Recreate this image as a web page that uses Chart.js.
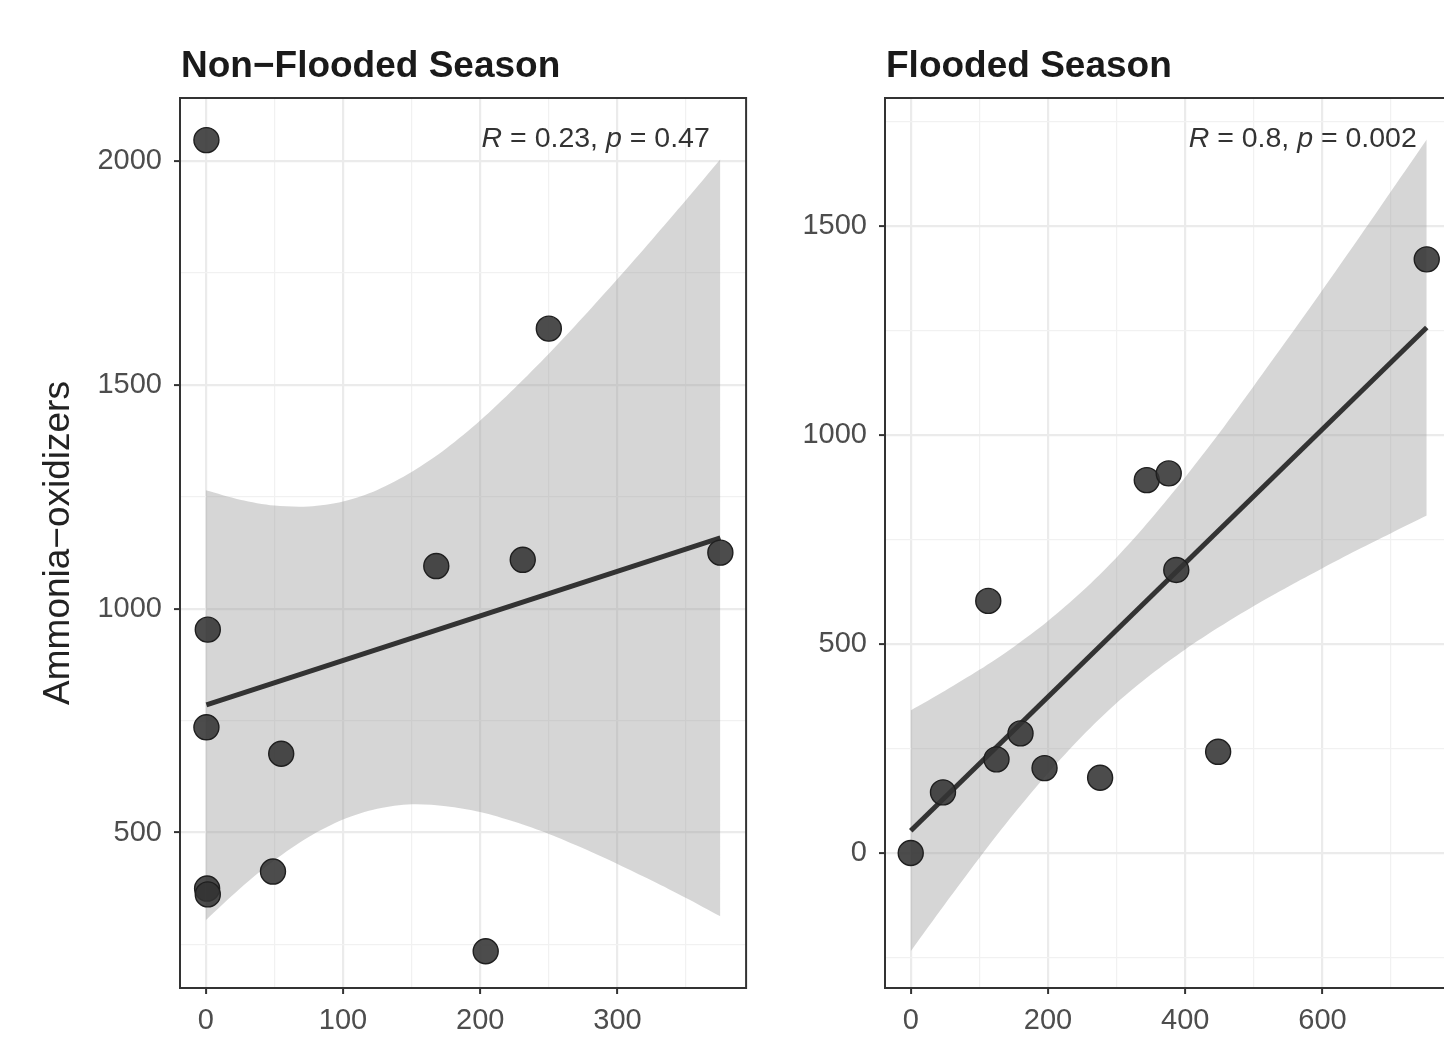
<!DOCTYPE html>
<html>
<head>
<meta charset="utf-8">
<script src="https://cdn.jsdelivr.net/npm/chart.js@4"></script>
<style>
  html, body { margin: 0; padding: 0; background: #fff; overflow: hidden; }
  #wrap { position: relative; width: 1444px; height: 1045px; overflow: hidden; }
  #leftBox { position: absolute; left: 0; top: 0; width: 760px; height: 1045px; }
  #rightBox { position: absolute; left: 760px; top: 0; width: 705px; height: 1045px; }
</style>
</head>
<body>
<div id="wrap">
  <div id="leftBox"><canvas id="nonFlooded" width="760" height="1045"></canvas></div>
  <div id="rightBox"><canvas id="flooded" width="705" height="1045"></canvas></div>
</div>
<script>
// values

// Non-Flooded season
const nfX = [0.5, 250, 168, 231, 375, 1.5, 0.5, 55, 49, 1, 1.5, 204];
const nfY = [2046, 1625, 1095, 1109, 1125, 953, 735, 676, 413, 375, 362, 235];
const nfFitX = [0.5, 375];
const nfFitY = [785, 1158];
const nfBandX = [0, 25, 50, 75, 100, 125, 150, 175, 200, 225, 250, 275, 300, 325, 350, 375];
const nfBandHi = [1264, 1243, 1230, 1228, 1239, 1265, 1305, 1357, 1420, 1492, 1569, 1651, 1736, 1823, 1912, 2003];
const nfBandLo = [304, 375, 438, 490, 529, 553, 563, 559, 546, 524, 497, 465, 430, 393, 354, 313];
const nfXTicks = [0, 50, 100, 150, 200, 250, 300, 350];
const nfYTicks = [250, 500, 750, 1000, 1250, 1500, 1750, 2000];

// Flooded season
const fX = [0, 47, 113, 125, 160, 195, 276, 344, 376, 387, 448, 752];
const fY = [0, 145, 603, 224, 286, 203, 180, 892, 908, 677, 242, 1420];
const fFitX = [0, 752];
const fFitY = [53, 1257];
const fBandX = [0, 50, 100, 150, 200, 250, 300, 350, 400, 450, 500, 550, 600, 650, 700, 752];
const fBandHi = [341, 388, 438, 493, 555, 626, 707, 799, 899, 1005, 1117, 1231, 1347, 1464, 1583, 1707];
const fBandLo = [-235, -122, -12, 93, 191, 280, 359, 427, 487, 541, 591, 637, 681, 724, 765, 807];
const fXTicks = [0, 100, 200, 300, 400, 500, 600, 700];
const fYTicks = [-250, 0, 250, 500, 750, 1000, 1250, 1500, 1750];

const FONT = "'Liberation Sans', Arial, Helvetica, sans-serif";

const toXY = (xs, ys) => xs.map((x, i) => ({ x: x, y: ys[i] }));

// frame, panel title and correlation label
const panelDecor = {
  id: 'panelDecor',
  afterDraw(chart, args, opts) {
    const ctx = chart.ctx;
    const a = chart.chartArea;
    ctx.save();
    ctx.strokeStyle = '#333333';
    ctx.lineWidth = 2;
    ctx.strokeRect(a.left, a.top, a.right - a.left, a.bottom - a.top);

    ctx.fillStyle = '#1a1a1a';
    ctx.font = 'bold 37px ' + FONT;
    ctx.textBaseline = 'alphabetic';
    ctx.textAlign = 'left';
    ctx.fillText(opts.title, a.left + 1, 77);

    // R = .., p = ..
    let x = chart.scales.x.getPixelForValue(opts.labelX);
    const y = 147;
    ctx.fillStyle = '#333333';
    opts.label.forEach(part => {
      ctx.font = (part.it ? 'italic ' : '') + '28.5px ' + FONT;
      ctx.fillText(part.t, x, y);
      x += ctx.measureText(part.t).width;
    });
    ctx.restore();
  }
};

function makePanel(id, cfg) {
  const majorX = v => Math.abs(v % cfg.xMajor) < 1e-9;
  const majorY = v => Math.abs(v % cfg.yMajor) < 1e-9;
  const gridOpts = isMajor => ({
    color: c => (c.tick && isMajor(c.tick.value)) ? '#ebebeb' : '#f1f1f1',
    lineWidth: c => (c.tick && isMajor(c.tick.value)) ? 2.2 : 1.2,
    tickColor: c => (c.tick && isMajor(c.tick.value)) ? '#333333' : 'rgba(0,0,0,0)',
    tickWidth: 2,
    tickLength: 6,
    drawTicks: true
  });

  return new Chart(document.getElementById(id), {
    type: 'scatter',
    data: {
      datasets: [
        {
          label: 'samples',
          data: toXY(cfg.x, cfg.y),
          pointRadius: 12.5,
          backgroundColor: 'rgba(51,51,51,0.88)',
          borderColor: '#1f1f1f',
          borderWidth: 1.4
        },
        {
          type: 'line',
          label: 'fit',
          data: toXY(cfg.fitX, cfg.fitY),
          borderColor: '#333333',
          borderWidth: 5,
          pointRadius: 0,
          fill: false
        },
        {
          type: 'line',
          label: 'ci upper',
          data: toXY(cfg.bandX, cfg.bandHi),
          borderWidth: 0,
          borderColor: 'rgba(0,0,0,0)',
          pointRadius: 0,
          tension: 0.3,
          fill: '+1',
          backgroundColor: 'rgba(153,153,153,0.4)'
        },
        {
          type: 'line',
          label: 'ci lower',
          data: toXY(cfg.bandX, cfg.bandLo),
          borderWidth: 0,
          borderColor: 'rgba(0,0,0,0)',
          pointRadius: 0,
          tension: 0.3,
          fill: false
        }
      ]
    },
    options: {
      responsive: false,
      animation: false,
      events: [],
      layout: { padding: { top: 98, right: 12, left: 0, bottom: 0 } },
      plugins: {
        legend: { display: false },
        tooltip: { enabled: false },
        panelDecor: { title: cfg.title, label: cfg.label, labelX: cfg.labelX }
      },
      scales: {
        x: {
          type: 'linear',
          min: cfg.xMin,
          max: cfg.xMax,
          afterBuildTicks: s => { s.ticks = cfg.xTicks.map(v => ({ value: v })); },
          afterFit: s => { s.height = 57; },
          border: { display: false },
          grid: gridOpts(majorX),
          ticks: {
            autoSkip: false,
            maxRotation: 0,
            padding: 10,
            color: '#4d4d4d',
            font: { family: FONT, size: 29 },
            callback: v => majorX(v) ? v : ''
          }
        },
        y: {
          type: 'linear',
          min: cfg.yMin,
          max: cfg.yMax,
          afterBuildTicks: s => { s.ticks = cfg.yTicks.map(v => ({ value: v })); },
          afterFit: s => { s.width = cfg.yWidth; },
          border: { display: false },
          grid: gridOpts(majorY),
          title: {
            display: !!cfg.yTitle,
            text: cfg.yTitle || '',
            color: '#222222',
            font: { family: FONT, size: 37 },
            padding: { top: 37, bottom: 0 }
          },
          ticks: {
            autoSkip: false,
            padding: 12,
            color: '#4d4d4d',
            font: { family: FONT, size: 29 },
            callback: v => majorY(v) ? v : ''
          }
        }
      }
    },
    plugins: [panelDecor]
  });
}

makePanel('nonFlooded', {
  title: 'Non\u2212Flooded Season',
  yTitle: 'Ammonia\u2212oxidizers',
  yWidth: 180,
  x: nfX, y: nfY,
  fitX: nfFitX, fitY: nfFitY,
  bandX: nfBandX, bandHi: nfBandHi, bandLo: nfBandLo,
  xTicks: nfXTicks, yTicks: nfYTicks,
  xMin: -18.75, xMax: 393.75, xMajor: 100,
  yMin: 153, yMax: 2140, yMajor: 500,
  labelX: 201,
  label: [{ t: 'R', it: true }, { t: ' = 0.23, ' }, { t: 'p', it: true }, { t: ' = 0.47' }]
});

makePanel('flooded', {
  title: 'Flooded Season',
  yTitle: null,
  yWidth: 125,
  x: fX, y: fY,
  fitX: fFitX, fitY: fFitY,
  bandX: fBandX, bandHi: fBandHi, bandLo: fBandLo,
  xTicks: fXTicks, yTicks: fYTicks,
  xMin: -37.5, xMax: 787.5, xMajor: 200,
  yMin: -323, yMax: 1806, yMajor: 500,
  labelX: 405,
  label: [{ t: 'R', it: true }, { t: ' = 0.8, ' }, { t: 'p', it: true }, { t: ' = 0.002' }]
});
</script>
</body>
</html>
